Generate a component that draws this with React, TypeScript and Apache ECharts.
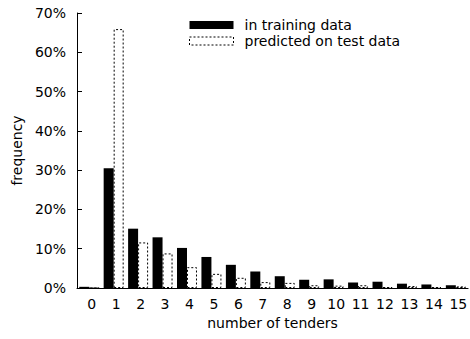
import React, { useEffect, useRef } from "react";
import * as echarts from "echarts";

const categories = ["0", "1", "2", "3", "4", "5", "6", "7", "8", "9", "10", "11", "12", "13", "14", "15"];
const trainingData = [0.3, 30.5, 15.1, 12.9, 10.2, 7.9, 5.9, 4.2, 3.0, 2.1, 2.2, 1.4, 1.6, 1.1, 0.9, 0.7];
const predictedData = [0.05, 65.9, 11.6, 8.8, 5.3, 3.6, 2.6, 1.5, 1.3, 0.7, 0.6, 0.7, 0.2, 0.5, 0.2, 0.4];
const yTicks = [0, 10, 20, 30, 40, 50, 60, 70];

const FONT = "DejaVu Sans";

export default function App() {
  const ref = useRef<HTMLDivElement>(null);
  useEffect(() => {
    if (!ref.current) return;
    const chart = echarts.init(ref.current, null, { renderer: "svg" });
    const dashedStyle = {
      color: "#ffffff",
      borderColor: "#000000",
      borderWidth: 1,
      borderType: [2, 2] as any,
    };
    chart.setOption({
      animation: false,
      backgroundColor: "#ffffff",
      textStyle: { fontFamily: FONT },
      grid: { left: 77, top: 13, width: 399, height: 275 },
      legend: {
        orient: "vertical",
        left: 184,
        top: 13,
        itemWidth: 44,
        itemHeight: 8,
        itemGap: 2,
        icon: "rect",
        textStyle: { fontFamily: FONT, fontSize: 14, color: "#000", padding: [0, 0, 0, 6], lineHeight: 14 },
        data: [
          { name: "in training data", itemStyle: { color: "#000" } },
          { name: "predicted on test data", itemStyle: dashedStyle },
        ],
      },
      xAxis: {
        type: "category",
        data: categories,
        name: "number of tenders",
        nameLocation: "middle",
        nameGap: 25,
        nameTextStyle: { fontFamily: FONT, fontSize: 14, color: "#000" },
        axisLine: { lineStyle: { color: "#000", width: 1 } },
        axisTick: { show: false },
        axisLabel: { fontFamily: FONT, fontSize: 14, color: "#000", margin: 9, padding: [0, 0, 0, 5] },
      },
      yAxis: {
        type: "value",
        min: yTicks[0],
        max: yTicks[yTicks.length - 1],
        interval: 10,
        name: "frequency",
        nameLocation: "middle",
        nameGap: 49,
        nameTextStyle: { fontFamily: FONT, fontSize: 14, color: "#000" },
        axisLine: { show: true, lineStyle: { color: "#000", width: 1 } },
        axisTick: { show: true, inside: true, length: 5, lineStyle: { color: "#000" } },
        splitLine: { show: false },
        axisLabel: { fontFamily: FONT, fontSize: 14, color: "#000", margin: 11, formatter: "{value}%" },
      },
      series: [
        {
          name: "in training data",
          type: "bar",
          data: trainingData,
          barWidth: 10,
          barGap: "0%",
          itemStyle: { color: "#000" },
        },
        {
          name: "predicted on test data",
          type: "bar",
          data: predictedData,
          barWidth: 10,
          barGap: "0%",
          itemStyle: dashedStyle,
        },
      ],
    });
    return () => chart.dispose();
  }, []);
  return <div ref={ref} style={{ width: 470, height: 339, position: "absolute", left: 0, top: 0 }} />;
}
